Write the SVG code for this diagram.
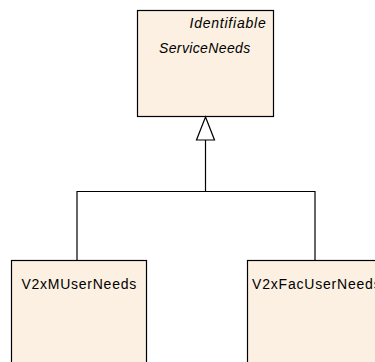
<svg xmlns="http://www.w3.org/2000/svg" width="375" height="362" viewBox="0 0 375 362">
<style>
.box{fill:#FBF0E1;stroke:#000;stroke-width:1.2}
.t{font-family:"Liberation Sans",Arial,sans-serif;font-size:14px;fill:#000;letter-spacing:0.8px}
.i{font-style:italic}
.c{fill:none;stroke:#000;stroke-width:1.2}
</style>
<rect width="375" height="362" fill="#fff"/>
<g id="ServiceNeeds">
<rect class="box" x="137.5" y="10.5" width="136" height="106"/>
<text class="t i" x="189.5" y="27.5" textLength="77" lengthAdjust="spacing">Identifiable</text>
<text class="t i" x="159" y="52.5" textLength="92" lengthAdjust="spacing">ServiceNeeds</text>
</g>
<g id="V2xMUserNeeds">
<rect class="box" x="11.5" y="260.5" width="135" height="110"/>
<text class="t" x="21.5" y="289" textLength="115.5" lengthAdjust="spacing">V2xMUserNeeds</text>
</g>
<g id="V2xFacUserNeeds">
<rect class="box" x="247.5" y="260.5" width="140" height="110"/>
<text class="t" x="252" y="289">V2xFacUserNeeds</text>
</g>
<g id="connectors">
<polyline class="c" points="77,260.5 77,191.5 315,191.5 315,260.5"/>
<line class="c" x1="205.5" y1="191.5" x2="205.5" y2="140"/>
<polygon points="205.5,117 196.5,140 214.5,140" fill="#fff" stroke="#000" stroke-width="1.2"/>
</g>
</svg>
